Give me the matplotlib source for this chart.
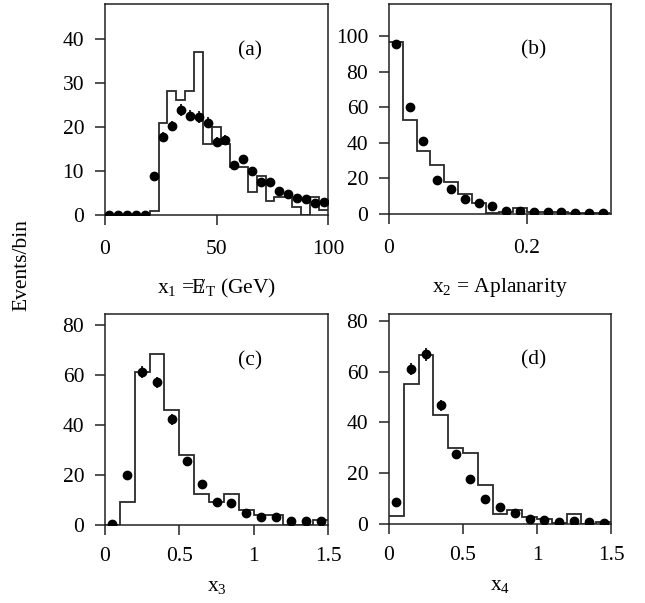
import numpy as np
import matplotlib
matplotlib.use("Agg")
import matplotlib.pyplot as plt
from matplotlib.ticker import MultipleLocator, FormatStrFormatter

plt.rcParams['font.family'] = ['Liberation Serif', 'DejaVu Serif']
plt.rcParams['mathtext.fontset'] = 'custom'
plt.rcParams['mathtext.rm'] = 'Liberation Serif'
plt.rcParams['mathtext.it'] = 'Liberation Serif:italic'
plt.rcParams['mathtext.default'] = 'regular'

# ---------------- data ----------------
# (a) x1 = missing ET (GeV), 4 GeV bins
a_centers = [2, 6, 10, 14, 18, 22, 26, 30, 34, 38, 42, 46, 50, 54, 58, 62, 66, 70, 74, 78, 82, 86, 90, 94, 98]
a_data = [0, 0, 0, 0, 0, 8.9, 17.8, 20.2, 23.9, 22.6, 22.3, 21.0, 16.7, 17.0, 11.4, 12.7, 10.0, 7.6, 7.6, 5.5, 4.7, 3.9, 3.6, 2.7, 3.0]
a_err = [0, 0, 0, 0, 0, 0.8, 1.1, 1.2, 1.4, 1.3, 1.3, 1.3, 1.1, 1.1, 0.9, 1.0, 0.9, 0.8, 0.8, 0.7, 0.6, 0.6, 0.5, 0.5, 0.5]
a_hist = [0, 0, 0, 0, 0, 1.0, 21.0, 28.2, 26.1, 28.2, 37.1, 16.1, 20.1, 16.1, 11.0, 11.0, 5.2, 8.9, 3.2, 4.2, 4.2, 1.9, 0, 4.2, 1.1]
a_edges = np.linspace(0, 100, 26)

# (b) x2 = Aplanarity, 0.02 bins
b_centers = [0.01, 0.03, 0.05, 0.07, 0.09, 0.11, 0.13, 0.15, 0.17, 0.19, 0.21, 0.23, 0.25, 0.27, 0.29, 0.31]
b_data = [95.7, 60.0, 40.9, 18.9, 14.3, 8.6, 6.2, 4.7, 1.5, 1.9, 1.1, 0.9, 1.1, 0.7, 0.7, 0.4]
b_err = [2.6, 2.0, 1.7, 1.2, 1.0, 0.8, 0.7, 0.6, 0.3, 0.4, 0.3, 0.3, 0.3, 0.2, 0.2, 0.2]
b_hist = [96.9, 53.1, 35.7, 27.8, 17.8, 11.3, 6.2, 0.6, 1.0, 3.4, 0.9, 0.9, 0.9, 0.6, 0.6, 0.6]
b_edges = np.linspace(0, 0.32, 17)

# (c) x3, 0.1 bins
c_centers = [0.05, 0.15, 0.25, 0.35, 0.45, 0.55, 0.65, 0.75, 0.85, 0.95, 1.05, 1.15, 1.25, 1.35, 1.45]
c_data = [0.4, 20.0, 61.3, 57.1, 42.3, 25.7, 16.4, 9.3, 8.9, 4.7, 3.3, 3.3, 1.7, 1.7, 1.5]
c_err = [0.3, 1.4, 2.3, 2.2, 2.1, 1.6, 1.3, 1.0, 1.0, 0.7, 0.6, 0.6, 0.4, 0.4, 0.4]
c_hist = [0, 9.3, 61.1, 68.3, 46.0, 28.0, 12.3, 9.1, 12.3, 6.2, 4.0, 4.0, 0, 0, 2.0]
c_edges = np.linspace(0, 1.5, 16)

# (d) x4, 0.1 bins
d_centers = [0.05, 0.15, 0.25, 0.35, 0.45, 0.55, 0.65, 0.75, 0.85, 0.95, 1.05, 1.15, 1.25, 1.35, 1.45]
d_data = [8.6, 61.0, 66.9, 46.7, 27.5, 17.9, 9.8, 6.8, 4.4, 2.0, 1.6, 0.9, 1.0, 0.7, 0.4]
d_err = [1.1, 2.3, 2.6, 2.3, 1.7, 1.4, 1.0, 0.9, 0.7, 0.5, 0.4, 0.3, 0.3, 0.3, 0.2]
d_hist = [3.0, 55.2, 66.5, 43.0, 30.0, 28.0, 15.3, 4.0, 5.7, 2.9, 2.0, 0.3, 3.9, 0, 0.8]
d_edges = np.linspace(0, 1.5, 16)

FS = 15.5

fig = plt.figure(figsize=(6.45, 6.03), dpi=100)
W, H = 645.0, 603.0

def make_ax(x0, x1, ytop, ybot):
    return fig.add_axes([x0 / W, 1 - ybot / H, (x1 - x0) / W, (ybot - ytop) / H])

ax_a = make_ax(105, 328, 4, 215)
ax_b = make_ax(389, 611, 4, 214)
ax_c = make_ax(105, 328, 314, 525)
ax_d = make_ax(389, 611, 314, 524)

panels = [
    (ax_a, a_centers, a_data, a_err, a_hist, a_edges, (0, 100), (0, 48), 50, 10, '(a)',
     r'x$_1$ = $/\!\!\!\!\!E_T$ (GeV)', 11, 13),
    (ax_b, b_centers, b_data, b_err, b_hist, b_edges, (0, 0.322), (0, 118.3), 0.2, 20, '(b)',
     r'x$_2$ = Aplanarity', 11, 13),
    (ax_c, c_centers, c_data, c_err, c_hist, c_edges, (0, 1.5), (0, 84.4), 0.5, 20, '(c)',
     r'x$_3$', 9, 8),
    (ax_d, d_centers, d_data, d_err, d_hist, d_edges, (0, 1.5), (0, 82.7), 0.5, 20, '(d)',
     r'x$_4$', 9, 8),
]

for ax, xc, yd, ye, hv, ed, xl, yl, xmaj, ymaj, tag, xlabel, xpad, lpad in panels:
    ax.stairs(hv, ed, color='#2a2a2a', lw=1.3, baseline=None, zorder=2)
    ax.errorbar(xc, yd, yerr=ye, fmt='o', color='black', ms=6, elinewidth=1.2,
                capsize=0, zorder=3)
    ax.set_xlim(*xl)
    ax.set_ylim(*yl)
    ax.xaxis.set_major_locator(MultipleLocator(xmaj))
    ax.yaxis.set_major_locator(MultipleLocator(ymaj))
    ax.xaxis.set_major_formatter(FormatStrFormatter('%g'))
    ax.yaxis.set_major_formatter(FormatStrFormatter('%g'))
    ax.tick_params(axis='both', direction='out', length=7, width=1.2, labelsize=FS, color='#333333')
    ax.tick_params(axis='x', pad=xpad)
    ax.tick_params(axis='y', pad=8)
    ax.tick_params(top=False, right=False)
    for s in ax.spines.values():
        s.set_linewidth(1.1)
        s.set_color('#222222')
    ax.text(0.65, 0.78, tag, transform=ax.transAxes, fontsize=FS, ha='center', va='center')
    ax.set_xlabel(xlabel, fontsize=FS, labelpad=lpad)

fig.text(22 / W, 1 - 265 / H, 'Events/bin', rotation=90, fontsize=FS, ha='center', va='center')

fig.savefig('out.png', dpi=100)
